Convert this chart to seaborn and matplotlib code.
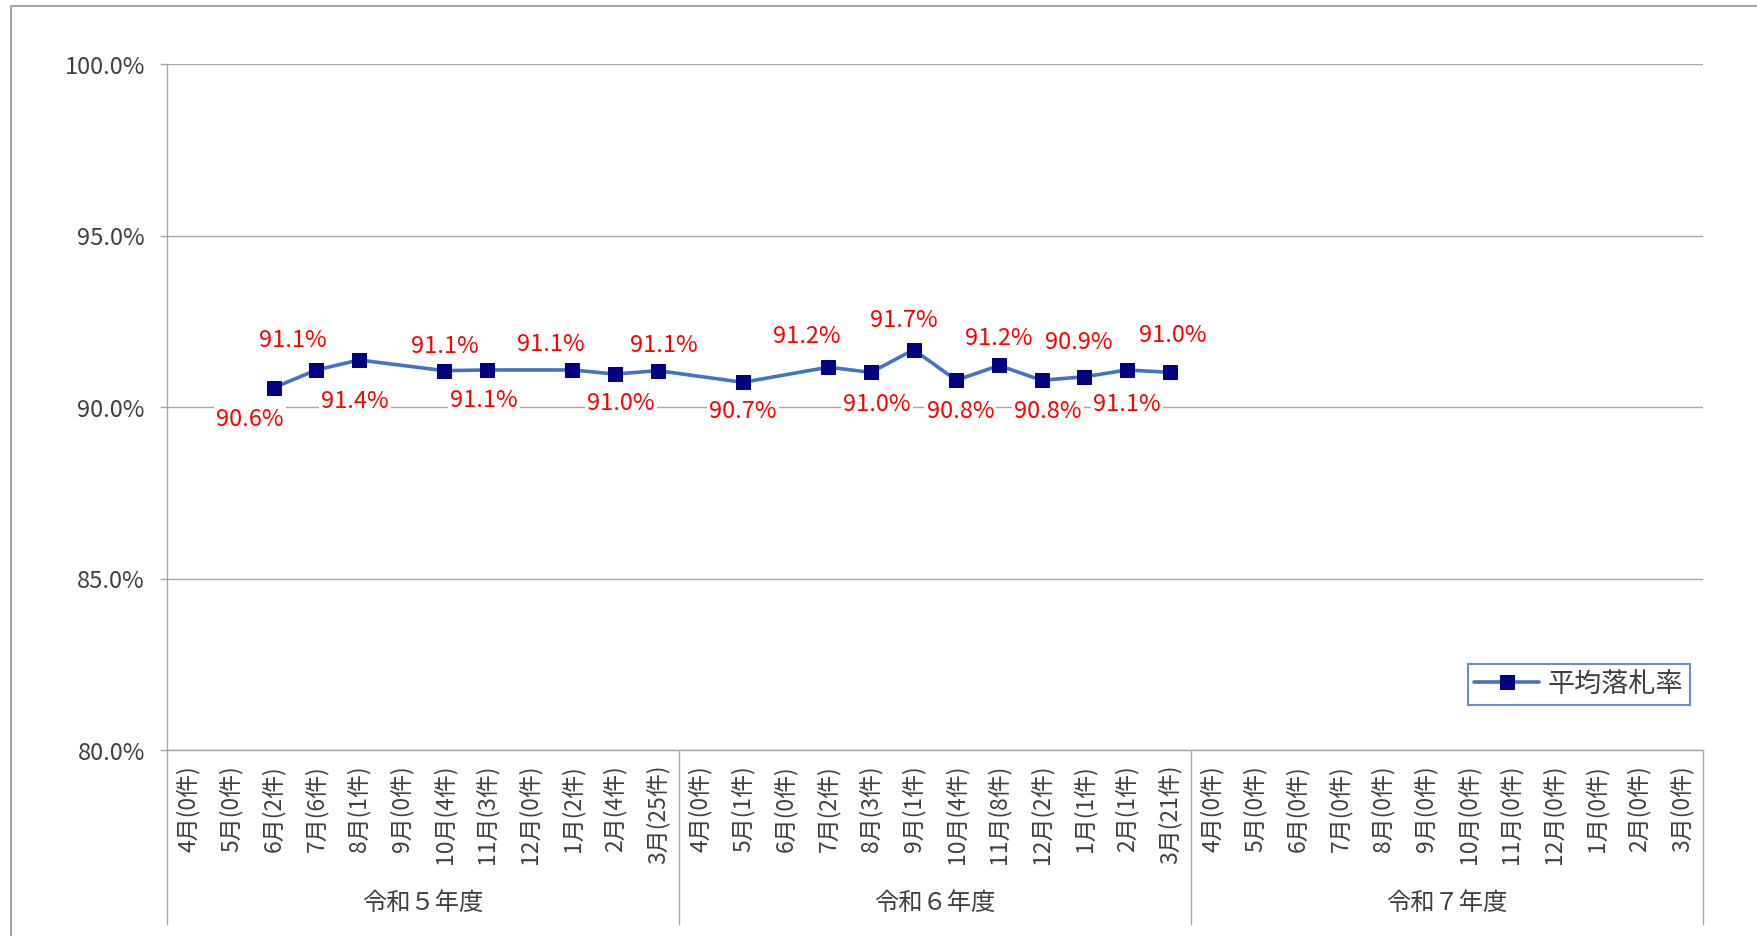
import numpy as np
import pandas as pd
import matplotlib
matplotlib.use("Agg")
import matplotlib.pyplot as plt
import matplotlib.transforms as mtransforms
from matplotlib.lines import Line2D
import seaborn as sns

# ---------------- data ----------------
fiscal_years = ["令和５年度", "令和６年度", "令和７年度"]
months = ["4月", "5月", "6月", "7月", "8月", "9月", "10月", "11月", "12月", "1月", "2月", "3月"]
counts_r5 = [0, 0, 2, 6, 1, 0, 4, 3, 0, 2, 4, 25]
counts_r6 = [0, 1, 0, 2, 3, 1, 4, 8, 2, 1, 1, 21]
counts_r7 = [0, 0, 0, 0, 0, 0, 0, 0, 0, 0, 0, 0]
rate_r5 = [None, None, 90.56, 91.08, 91.37, None, 91.06, 91.08, None, 91.08, 90.96, 91.06]
rate_r6 = [None, 90.72, None, 91.16, 91.01, 91.67, 90.78, 91.21, 90.78, 90.88, 91.08, 91.01]
rate_r7 = [None, None, None, None, None, None, None, None, None, None, None, None]
series_name = "平均落札率"
y_ticks = [80, 85, 90, 95, 100]

# label offsets (pixels, +x right, +y down) for the data labels, in order of valid points
label_dx = [-24, -24, -4, 0, -3, -22, 6, 6, 0, -22, 6, -10, 4, 0, 6, -6, 0, 3]
label_dy = [31, -30, 40, -25, 30, -26, 28, -26, 28, -32, 31, -30, 30, -28, 30, -35, 34, -38]

# ---------------- build table ----------------
counts = counts_r5 + counts_r6 + counts_r7
rates = rate_r5 + rate_r6 + rate_r7
tick_labels = [f"{m}({c}件)" for m, c in zip(months * 3, counts)]
df = pd.DataFrame({"pos": np.arange(len(rates)), "rate": pd.array(rates, dtype="Float64")})
df["rate"] = df["rate"].astype(float)
valid = df.dropna().reset_index(drop=True)

# ---------------- style ----------------
sns.set_theme(style="white")
plt.rcParams["font.family"] = ["Noto Sans CJK JP", "DejaVu Sans"]
text_col = "#404040"
grid_col = "#a6a6a6"

W, H = 1758, 937
fig = plt.figure(figsize=(W / 100, H / 100), dpi=100)
ax = fig.add_axes([167 / W, 1 - 751 / H, (1703 - 167) / W, (751 - 65) / H])

sns.lineplot(data=valid, x="pos", y="rate", ax=ax, color="#4472C4", linewidth=2.6,
             marker="s", markersize=9.6, markerfacecolor="#000080",
             markeredgecolor="#000080", label=series_name)

ax.set_xlim(-0.5, len(rates) - 0.5)
ax.set_ylim(80, 100)
ax.set_yticks(y_ticks)
ax.set_yticklabels([f"{v:.1f}%" for v in y_ticks], fontsize=17, color=text_col)
ax.set_xticks(np.arange(len(rates)))
ax.set_xticklabels(tick_labels, rotation=90, fontsize=16.5, color=text_col)
ax.tick_params(axis="x", length=0, pad=10)
ax.tick_params(axis="y", length=5, width=1, color=grid_col, pad=11, left=True)
ax.set_xlabel("")
ax.set_ylabel("")
ax.grid(axis="y", color=grid_col, linewidth=1)
ax.set_axisbelow(True)
for s in ["top", "right"]:
    ax.spines[s].set_visible(False)
for s in ["left", "bottom"]:
    ax.spines[s].set_color(grid_col)
    ax.spines[s].set_linewidth(1)

# category group separators and labels
trans = mtransforms.blended_transform_factory(ax.transData, ax.transAxes)
low = -(925 - 751) / (751 - 65)
for b in [-0.5, 11.5, 23.5, 35.5]:
    ax.add_line(Line2D([b, b], [0, low], transform=trans, color=grid_col, lw=1, clip_on=False))
ylab = -(903 - 751) / (751 - 65)
for i, fy in enumerate(fiscal_years):
    ax.text(i * 12 + 5.5, ylab, fy, transform=trans, ha="center", va="center",
            fontsize=17.5, color=text_col)

# data labels
for i, row in valid.iterrows():
    ax.annotate(f"{row['rate']:.1f}%", (row["pos"], row["rate"]),
                xytext=(label_dx[i] * 0.72, -label_dy[i] * 0.72), textcoords="offset points",
                ha="center", va="center", color="red", fontsize=17,
                bbox=dict(boxstyle="square,pad=0.1", fc="white", ec="none"))

# legend
leg = ax.legend(loc="lower right", bbox_to_anchor=(0.9915, 0.066), frameon=True,
                fancybox=False, fontsize=19.5, handlelength=2.4, handletextpad=0.3,
                borderpad=0.25, borderaxespad=0)
leg.get_frame().set_edgecolor("#4472C4")
leg.get_frame().set_linewidth(1.5)
for t in leg.get_texts():
    t.set_color(text_col)

# outer chart border (top and left visible)
fig.add_artist(Line2D([11 / W, 1], [1 - 7 / H, 1 - 7 / H], transform=fig.transFigure,
                      color=grid_col, lw=1.5))
fig.add_artist(Line2D([11 / W, 11 / W], [0, 1 - 7 / H], transform=fig.transFigure,
                      color=grid_col, lw=1.5))

fig.savefig("out.png", dpi=100, facecolor="white")
